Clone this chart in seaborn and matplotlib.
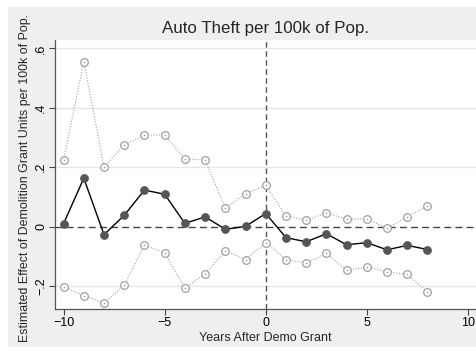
import matplotlib
matplotlib.use("Agg")
import matplotlib.pyplot as plt
from matplotlib.patches import Rectangle
import seaborn as sns
import pandas as pd

# Event-study estimates by year relative to the demolition grant
years = [-10, -9, -8, -7, -6, -5, -4, -3, -2, -1, 0, 1, 2, 3, 4, 5, 6, 7, 8]
estimate = [0.010, 0.163, -0.027, 0.038, 0.123, 0.109, 0.011, 0.033, -0.009, 0.001,
            0.044, -0.037, -0.051, -0.024, -0.061, -0.054, -0.078, -0.063, -0.077]
upper_ci = [0.224, 0.555, 0.200, 0.275, 0.308, 0.308, 0.228, 0.224, 0.063, 0.110,
            0.140, 0.036, 0.022, 0.046, 0.025, 0.026, -0.006, 0.034, 0.068]
lower_ci = [-0.202, -0.232, -0.257, -0.198, -0.062, -0.089, -0.206, -0.159, -0.081, -0.111,
            -0.054, -0.111, -0.123, -0.090, -0.147, -0.135, -0.152, -0.161, -0.220]

x_ticks = [-10, -5, 0, 5, 10]
x_tick_labels = ["\u221210", "\u22125", "0", "5", "10"]
y_ticks = [-0.2, 0, 0.2, 0.4, 0.6]
y_tick_labels = ["\u2212.2", "0", ".2", ".4", ".6"]

title = "Auto Theft per 100k of Pop."
x_label = "Years After Demo Grant"
y_label = "Estimated Effect of Demolition Grant Units per 100k of Pop."

df = pd.DataFrame({"year": years, "est": estimate, "hi": upper_ci, "lo": lower_ci})

sns.set_style("white")
plt.rcParams["font.family"] = ["Liberation Sans", "DejaVu Sans"]

W, H = 477, 354
fig = plt.figure(figsize=(W / 100, H / 100), dpi=100, facecolor="white")
bg = "#efefef"
fig.patches.append(Rectangle((8 / W, 7 / H), (476 - 8) / W, (347 - 7) / H,
                             transform=fig.transFigure, facecolor=bg,
                             edgecolor="none", zorder=-10))

ax = fig.add_axes([55.5 / W, (H - 308.5) / H, (476 - 55.5) / W, (308.5 - 40) / H])
ax.set_facecolor("white")

ci_color = "#a0a0a0"
for col in ["hi", "lo"]:
    sns.lineplot(data=df, x="year", y=col, ax=ax, color=ci_color, linestyle=(0, (1, 1.5)),
                 linewidth=0.8, marker="o", markersize=5.5, markerfacecolor="white",
                 markeredgecolor=ci_color, markeredgewidth=0.9, zorder=3)
    sns.scatterplot(data=df, x="year", y=col, ax=ax, color=ci_color, s=1.5,
                    linewidth=0, zorder=4)

sns.lineplot(data=df, x="year", y="est", ax=ax, color="black", linewidth=1.0,
             marker="o", markersize=5.5, markerfacecolor="#555555",
             markeredgecolor="#555555", zorder=5)

ax.axhline(0, color="#444444", linewidth=1.0, linestyle=(0, (5, 3)), zorder=2)
ax.axvline(0, color="#555555", linewidth=1.0, linestyle=(0, (4, 2.5)), zorder=2)

ax.set_xlim(-10.4, 10.4)
ax.set_ylim(-0.2755, 0.628)

ax.set_xticks(x_ticks)
ax.set_xticklabels(x_tick_labels, fontsize=9)
ax.set_yticks(y_ticks)
ax.set_yticklabels(y_tick_labels, fontsize=9, rotation=90, va="center")
for y in y_ticks:
    if y != 0:
        ax.axhline(y, color="#e6e6e6", linewidth=0.9, zorder=1)

ax.tick_params(axis="both", direction="out", length=4, width=0.8, color="#444444",
               pad=2, labelcolor="black")
ax.tick_params(axis="both", which="both", bottom=True, left=True)

for side in ["top", "right"]:
    ax.spines[side].set_visible(False)
for side in ["left", "bottom"]:
    ax.spines[side].set_color("#555555")
    ax.spines[side].set_linewidth(0.9)

ax.set_xlabel(x_label, fontsize=9, labelpad=2)
ax.set_ylabel(y_label, fontsize=8.9, labelpad=4)
ax.yaxis.set_label_coords(-(55.5 - 31) / (476 - 55.5), 0.5 + (174 - 178) / (308.5 - 40))

fig.text(266 / W, 1 - 29 / H, title, ha="center", va="center", fontsize=12.2)

fig.savefig("out.png", dpi=100, facecolor="white")
